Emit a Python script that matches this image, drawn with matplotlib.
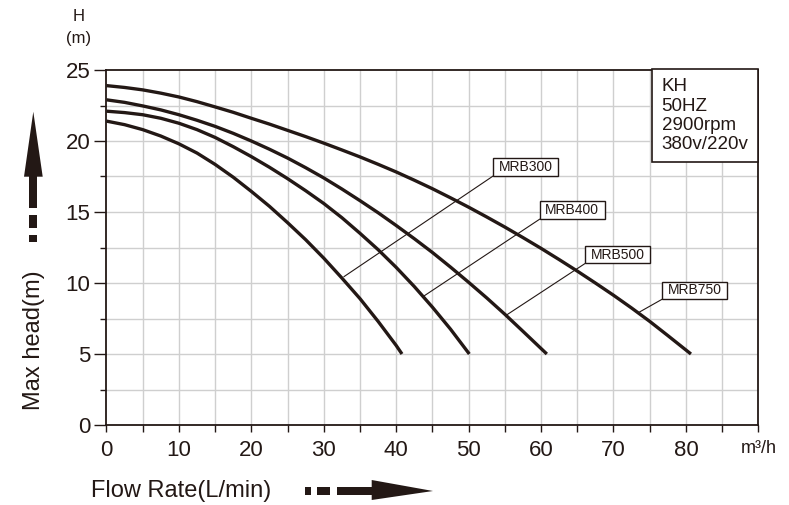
import matplotlib.pyplot as plt
from matplotlib.patches import Polygon, Rectangle

# Curvas: vazao (m3/h) x altura (m)
q_300 = [0, 2.5, 5, 7.5, 10, 12.5, 15, 17.5, 20, 22.5, 25, 27.5, 30, 32.5, 35, 37.5, 40, 40.8]
h_300 = [21.4, 21.15, 20.8, 20.35, 19.8, 19.15, 18.35, 17.45, 16.45, 15.4, 14.25, 13.05,
         11.75, 10.35, 8.9, 7.3, 5.6, 5.0]

q_400 = [0, 2.5, 5, 7.5, 10, 12.5, 15, 17.5, 20, 22.5, 25, 27.5, 30, 32.5, 35, 37.5, 40,
         42.5, 45, 47.5, 50.1]
h_400 = [22.1, 22.0, 21.85, 21.6, 21.25, 20.8, 20.25, 19.6, 18.9, 18.15, 17.35, 16.5, 15.6,
         14.6, 13.5, 12.35, 11.1, 9.75, 8.3, 6.75, 5.0]

q_500 = [0, 2.5, 5, 7.5, 10, 12.5, 15, 17.5, 20, 22.5, 25, 27.5, 30, 32.5, 35, 37.5, 40,
         42.5, 45, 47.5, 50, 52.5, 55, 57.5, 60.8]
h_500 = [22.9, 22.72, 22.47, 22.19, 21.85, 21.46, 21.03, 20.54, 20.0, 19.42, 18.8, 18.12,
         17.4, 16.62, 15.8, 14.95, 14.05, 13.12, 12.15, 11.12, 10.05, 8.95, 7.8, 6.6, 5.0]

q_750 = [0, 2.5, 5, 7.5, 10, 12.5, 15, 17.5, 20, 22.5, 25, 27.5, 30, 32.5, 35, 37.5, 40,
         42.5, 45, 47.5, 50, 52.5, 55, 57.5, 60, 62.5, 65, 67.5, 70, 72.5, 75, 77.5, 80.7]
h_750 = [23.9, 23.77, 23.6, 23.37, 23.1, 22.77, 22.4, 22.02, 21.6, 21.19, 20.75, 20.31,
         19.85, 19.37, 18.88, 18.36, 17.82, 17.24, 16.64, 16.0, 15.34, 14.65, 13.94, 13.2,
         12.44, 11.65, 10.84, 10.0, 9.14, 8.24, 7.3, 6.3, 5.0]

modelos = ['MRB300', 'MRB400', 'MRB500', 'MRB750']
info = ['KH', '50HZ', '2900rpm', '380v/220v']
x_ticks = [0, 10, 20, 30, 40, 50, 60, 70, 80, 90]
x_labels = ['0', '10', '20', '30', '40', '50', '60', '70', '80', 'm³/h']
y_ticks = [0, 5, 10, 15, 20, 25]

COR = '#231815'
W, H = 789, 505

plt.rcParams['font.family'] = ['Liberation Sans', 'DejaVu Sans']

fig = plt.figure(figsize=(W / 100, H / 100), dpi=100)
ax = fig.add_axes([106.5 / W, 1 - 425 / H, (758.3 - 106.5) / W, (425 - 70) / H])

# grade
for x in range(5, 90, 5):
    ax.axvline(x, color='#cfcfcf', lw=1.0, zorder=0)
for y in [2.5 * i for i in range(1, 10)]:
    ax.axhline(y, color='#cfcfcf', lw=1.0, zorder=0)

curvas = [(q_300, h_300), (q_400, h_400), (q_500, h_500), (q_750, h_750)]
for q, h in curvas:
    ax.plot(q, h, color=COR, lw=2.4, solid_capstyle='butt', solid_joinstyle='round', zorder=3)

# rotulos: canto inferior esquerdo da caixa e ponto na curva
rotulos = [
    ((53.4, 17.54), (32.8, 10.45)),
    ((59.8, 14.49), (43.7, 9.04)),
    ((66.1, 11.38), (55.1, 7.70)),
    ((76.7, 8.85), (73.4, 7.90)),
]
larg, alt = 9.0, 1.25
for nome, ((x0, y0), (xc, yc)) in zip(modelos, rotulos):
    ax.plot([x0, xc], [y0, yc], color=COR, lw=0.8, zorder=4)
    ax.add_patch(Rectangle((x0, y0), larg, alt, fc='white', ec=COR, lw=1.0, zorder=5))
    ax.text(x0 + larg / 2, y0 + alt / 2, nome, ha='center', va='center',
            fontsize=10, color=COR, zorder=6)

ax.set_xlim(0, 90)
ax.set_ylim(0, 25)
ax.set_xticks(x_ticks)
ax.set_xticklabels(x_labels)
ax.set_xticks(range(5, 90, 10), minor=True)
ax.set_yticks(y_ticks)
ax.set_yticks([2.5, 7.5, 12.5, 17.5, 22.5], minor=True)
ax.tick_params(axis='x', which='both', direction='out', length=5, width=1.0,
               color=COR, labelsize=16, labelcolor=COR, pad=6)
ax.tick_params(axis='y', which='major', direction='out', length=8.5, width=1.0,
               color=COR, labelsize=16, labelcolor=COR, pad=3)
ax.tick_params(axis='y', which='minor', direction='out', length=4.3, width=1.0, color=COR)
ax.get_xticklabels()[-1].set_fontsize(13)
for s in ax.spines.values():
    s.set_color(COR)
    s.set_linewidth(1.3)

# caixa de informacoes
bx0, bx1, by0, by1 = 651.7, 758.3, 69, 161.7
fig.add_artist(Rectangle((bx0 / W, 1 - by1 / H), (bx1 - bx0) / W, (by1 - by0) / H,
                         transform=fig.transFigure, fc='white', ec=COR, lw=1.2, zorder=6))
for i, linha in enumerate(info):
    fig.text(661.7 / W, 1 - (86.7 + 19.4 * i) / H, linha, fontsize=13.5, color=COR,
             ha='left', va='center', zorder=7)

# titulos dos eixos
fig.text(79 / W, 1 - 16.7 / H, 'H', fontsize=12, color=COR, ha='center', va='center')
fig.text(79 / W, 1 - 38 / H, '(m)', fontsize=12, color=COR, ha='center', va='center')
fig.text(34 / W, 1 - 340 / H, 'Max head(m)', fontsize=17, color=COR, rotation=90,
         ha='center', va='center')
fig.text(91 / W, 1 - 491 / H, 'Flow Rate(L/min)', fontsize=17, color=COR,
         ha='left', va='center')


def px(x, y):
    return (x / W, 1 - y / H)


def retangulo(x0, y0, x1, y1):
    fig.add_artist(Polygon([px(x0, y0), px(x1, y0), px(x1, y1), px(x0, y1)],
                           closed=True, transform=fig.transFigure, fc=COR, ec='none'))


# seta vertical
fig.add_artist(Polygon([px(33.3, 111.7), px(24, 176.7), px(42.7, 176.7)], closed=True,
                       transform=fig.transFigure, fc=COR, ec='none'))
retangulo(29.3, 176, 37.3, 208.3)
retangulo(29.3, 215, 37.3, 228)
retangulo(29.3, 235, 37.3, 241.7)

# seta horizontal
retangulo(305, 487.3, 310.7, 495)
retangulo(316.7, 487.3, 330, 495)
retangulo(336.7, 487.3, 372.5, 495)
fig.add_artist(Polygon([px(371.7, 480), px(433, 491), px(371.7, 500)], closed=True,
                       transform=fig.transFigure, fc=COR, ec='none'))

fig.savefig('out.png', dpi=100)
